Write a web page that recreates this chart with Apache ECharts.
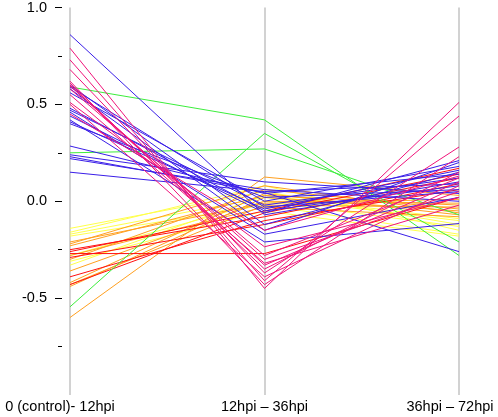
<!DOCTYPE html>
<html>
<head>
<meta charset="utf-8">
<script src="https://cdn.jsdelivr.net/npm/echarts@6/dist/echarts.min.js"></script>
<style>html,body{margin:0;padding:0;background:#fff}#c{width:498px;height:417px}</style>
</head>
<body>
<div id="c"></div>
<script>
const categories = ['0 (control)- 12hpi', '12hpi \u2013 36hpi', '36hpi \u2013 72hpi'];
const yLabelTicks = [-0.5, 0, 0.5, 1];
const yMinorTicks = [-0.75, -0.25, 0.25, 0.75];

const yellowLines = [
  [-0.14, 0.05, -0.12], [-0.16, 0.08, -0.15], [-0.17, 0.02, -0.10], [-0.18, -0.02, -0.17],
  [-0.28, 0.00, -0.13], [-0.31, -0.05, -0.18], [-0.33, 0.03, -0.09]
];
const orangeLines = [
  [-0.60, 0.125, 0.03], [-0.44, 0.02, -0.05], [-0.43, -0.02, -0.03], [-0.42, 0.04, -0.07],
  [-0.36, 0.00, -0.01], [-0.30, 0.06, -0.04], [-0.28, -0.03, -0.08], [-0.23, 0.03, -0.02],
  [-0.22, 0.08, -0.06], [-0.21, -0.01, 0.01]
];
const redLines = [
  [-0.27, -0.27, 0.02], [-0.25, -0.08, 0.12], [-0.26, -0.05, 0.17], [-0.39, -0.10, 0.06],
  [-0.29, -0.12, 0.09], [-0.43, -0.06, 0.14]
];
const greenLines = [
  [0.59, 0.42, -0.28], [-0.545, 0.35, -0.21], [0.25, 0.27, -0.07]
];
const blueLines = [
  [0.86, -0.07, 0.10], [0.60, -0.12, 0.15], [0.59, -0.03, 0.05], [0.58, -0.15, 0.20],
  [0.56, 0.00, 0.18], [0.48, -0.05, 0.08], [0.47, -0.02, 0.12], [0.46, -0.17, 0.02],
  [0.44, -0.06, 0.21], [0.42, -0.21, -0.115], [0.41, -0.04, 0.16], [0.40, 0.02, 0.06],
  [0.285, 0.04, 0.14], [0.24, 0.10, 0.04], [0.23, 0.045, -0.26], [0.22, 0.06, 0.00],
  [0.15, 0.05, 0.09]
];
const pinkLines = [
  [0.79, -0.45, 0.51], [0.73, -0.41, 0.44], [0.68, -0.37, 0.28], [0.62, -0.43, 0.23],
  [0.61, -0.35, 0.15], [0.60, -0.33, 0.10], [0.595, -0.30, 0.05], [0.58, -0.28, 0.12],
  [0.51, -0.235, 0.02], [0.50, -0.39, 0.08], [0.55, -0.32, -0.02], [0.45, -0.15, 0.13]
];

const groups = [
  [yellowLines, '#ffff4a'],
  [orangeLines, '#ffa020'],
  [redLines, '#ff1010'],
  [greenLines, '#3cee3c'],
  [blueLines, '#3a1ee8'],
  [pinkLines, '#f0147a']
];

const FONT = "'Liberation Sans', Arial, Helvetica, sans-serif";
const series = [];
groups.forEach(([lines, color]) => {
  lines.forEach(vals => {
    series.push({
      type: 'line', data: vals, symbol: 'none', silent: true,
      lineStyle: { color: color, width: 1 }, itemStyle: { color: color }
    });
  });
});

const chart = echarts.init(document.getElementById('c'));
chart.setOption({
  animation: false,
  backgroundColor: '#fff',
  grid: { left: 70, right: 39, top: 7, bottom: 22, containLabel: false },
  xAxis: {
    type: 'category', boundaryGap: false, data: categories,
    axisLine: { show: false }, axisTick: { show: false },
    splitLine: { show: true, interval: 0, lineStyle: { color: '#d2d2d2', width: 2 } },
    axisLabel: {
      interval: 0, margin: 4, color: '#000', fontSize: 14.5, fontFamily: FONT,
      formatter: (v, i) => i === 0 ? '{f|' + v + '}' : (i === 2 ? '{l|' + v + '}' : v),
      rich: {
        f: { fontSize: 14.5, fontFamily: FONT, color: '#000', padding: [0, 20, 0, 0] },
        l: { fontSize: 14.5, fontFamily: FONT, color: '#000', padding: [0, 18, 0, 0] }
      }
    }
  },
  yAxis: [
    {
      type: 'value', min: -1, max: 1, position: 'left', offset: 8,
      axisLine: { show: false }, splitLine: { show: false },
      axisTick: { show: true, length: 7, customValues: yLabelTicks, lineStyle: { color: '#000', width: 1 } },
      axisLabel: { customValues: yLabelTicks, margin: 15, color: '#000', fontSize: 14.5, fontFamily: FONT,
        formatter: v => v.toFixed(1) }
    },
    {
      type: 'value', min: -1, max: 1, position: 'left', offset: 8,
      axisLine: { show: false }, splitLine: { show: false },
      axisTick: { show: true, length: 4, customValues: yMinorTicks, lineStyle: { color: '#000', width: 1 } },
      axisLabel: { show: false }
    }
  ],
  series: series
});
</script>
</body>
</html>
